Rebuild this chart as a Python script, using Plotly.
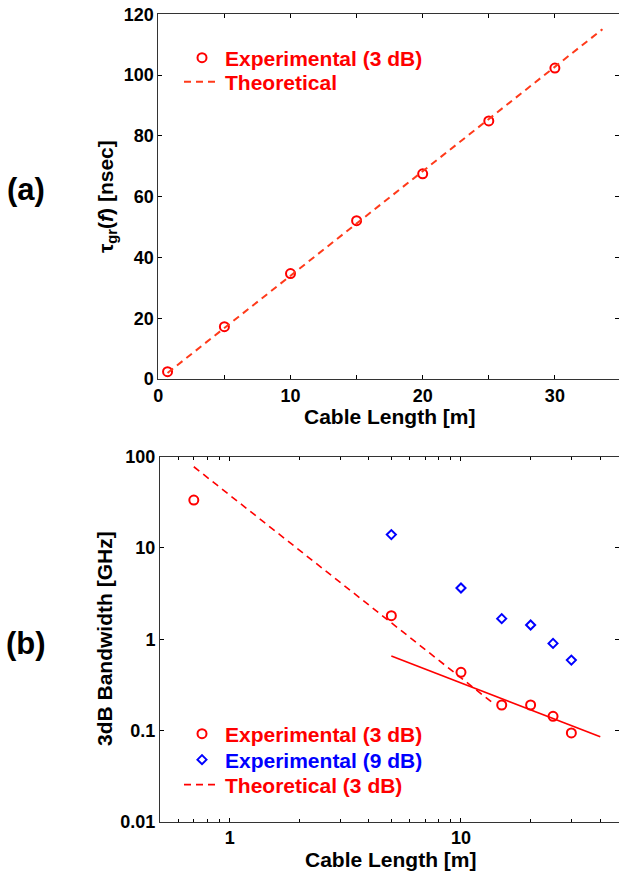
import plotly.graph_objects as go
import numpy as np

# ---------------- data ----------------
# (a) group delay vs cable length
delay_len = [0.7, 5, 10, 15, 20, 25, 30]
delay_exp = [2.4, 17.2, 34.7, 52.1, 67.5, 84.9, 102.3]
delay_theory_len = [0.7, 33.6]
delay_theory = [2.0, 115.1]

# (b) bandwidth vs cable length
bw3_len = [0.7, 5, 10, 15, 20, 25, 30]
bw3_exp = [33.5, 1.81, 0.434, 0.19, 0.19, 0.143, 0.094]
bw9_len = [5, 10, 15, 20, 25, 30]
bw9_exp = [14.0, 3.64, 1.68, 1.43, 0.90, 0.59]
bw_theory_len = [0.7, 13.8]
bw_theory = [77.6, 0.198]
bw_fit_len = [5, 40]
bw_fit = [0.655, 0.0855]

yticks_a = [0, 20, 40, 60, 80, 100, 120]
xticks_a = [0, 10, 20, 30]
yticks_b = [0.01, 0.1, 1, 10, 100]
yticklabels_b = ["0.01", "0.1", "1", "10", "100"]
xticks_b = [1, 10]
xticklabels_b = ["1", "10"]

FONT = "Liberation Sans, Arial, sans-serif"
W, H = 619, 874
RED = "#ff0000"
BLUE = "#0000ff"
AX = "#333333"

fig = go.Figure()

# ---- (a) ----
fig.add_trace(go.Scatter(
    x=delay_len, y=delay_exp, mode="markers", name="Experimental (3 dB)",
    marker=dict(symbol="circle-open", size=9, color=RED, line=dict(width=2, color=RED)),
    xaxis="x", yaxis="y", legend="legend"))
fig.add_trace(go.Scatter(
    x=delay_theory_len, y=delay_theory, mode="lines", name="Theoretical",
    line=dict(color="#ff3a1a", width=2, dash="7px,5px"),
    xaxis="x", yaxis="y", legend="legend2"))

# ---- (b) ----
fig.add_trace(go.Scatter(
    x=bw3_len, y=bw3_exp, mode="markers", name="Experimental (3 dB)",
    marker=dict(symbol="circle-open", size=9, color=RED, line=dict(width=2, color=RED)),
    xaxis="x2", yaxis="y2", legend="legend3"))
fig.add_trace(go.Scatter(
    x=bw9_len, y=bw9_exp, mode="markers", name="Experimental (9 dB)",
    marker=dict(symbol="diamond-open", size=7, color=BLUE, line=dict(width=2, color=BLUE)),
    xaxis="x2", yaxis="y2", legend="legend4"))
fig.add_trace(go.Scatter(
    x=bw_theory_len, y=bw_theory, mode="lines", name="Theoretical (3 dB)",
    line=dict(color=RED, width=1.6, dash="7px,5px"),
    xaxis="x2", yaxis="y2", legend="legend5"))
fig.add_trace(go.Scatter(
    x=bw_fit_len, y=bw_fit, mode="lines", name="fit", showlegend=False,
    line=dict(color=RED, width=1.6),
    xaxis="x2", yaxis="y2"))

tickfont = dict(family=FONT, size=18, color="black", weight="bold")
common = dict(showgrid=False, zeroline=False, ticks="inside", ticklen=4,
              tickcolor="black", tickwidth=1, showline=True, linecolor=AX,
              linewidth=1, tickfont=tickfont)

top_dom = [1 - 379 / H, 1 - 14.3 / H]
bot_dom = [1 - 821.7 / H, 1 - 456.7 / H]


def leg(ycenter, color):
    return dict(x=179 / W, xanchor="left", y=1 - ycenter / H, yanchor="middle",
                bgcolor="rgba(0,0,0,0)", borderwidth=0, itemwidth=36,
                font=dict(family=FONT, size=21, color=color, weight="bold"))


fig.update_layout(
    width=W, height=H,
    margin=dict(l=0, r=0, t=0, b=0, autoexpand=False),
    paper_bgcolor="white", plot_bgcolor="white",
    font=dict(family=FONT, color="black"),
    xaxis=dict(domain=[158.3 / W, 1], range=[0, 34.85], anchor="y",
               tickvals=xticks_a, mirror="ticks",
               minor=dict(dtick=5, ticks="inside", ticklen=4, tickcolor="black", showgrid=False),
               **common),
    yaxis=dict(domain=top_dom, range=[0, 120], anchor="x",
               tickvals=yticks_a, mirror="ticks", **common),
    xaxis2=dict(domain=[160 / W, 1], type="log",
                range=[np.log10(0.5), np.log10(48.2)], anchor="y2",
                tickvals=xticks_b, ticktext=xticklabels_b, mirror="ticks",
                minor=dict(ticks="inside", ticklen=3, tickcolor="black", showgrid=False,
                           tickvals=[0.6, 0.7, 0.8, 0.9, 2, 3, 4, 5, 6, 7, 8, 9, 20, 30, 40]),
                **common),
    yaxis2=dict(domain=bot_dom, type="log", range=[-2, 2], anchor="x2",
                tickvals=yticks_b, ticktext=yticklabels_b, mirror="ticks",
                **common),
    legend=leg(58, RED),
    legend2=leg(82, RED),
    legend3=leg(734, RED),
    legend4=leg(760, BLUE),
    legend5=leg(785, RED),
    showlegend=True,
)

titlefont = dict(family=FONT, size=21, color="black", weight="bold")
ann = [
    dict(text="Cable Length [m]", x=390 / W, y=1 - 416 / H),
    dict(text="Cable Length [m]", x=391 / W, y=1 - 859 / H),
    dict(text="τ<sub>gr</sub>(<i>f</i>) [nsec]", x=107 / W, y=1 - 197 / H, textangle=-90),
    dict(text="3dB Bandwidth [GHz]", x=104 / W, y=1 - 639 / H, textangle=-90),
]
for a in ann:
    fig.add_annotation(xref="paper", yref="paper", showarrow=False,
                       xanchor="center", yanchor="middle", font=titlefont, **a)
for t, yy in [("(a)", 190), ("(b)", 643)]:
    fig.add_annotation(text=t, xref="paper", yref="paper", x=26 / W, y=1 - yy / H,
                       showarrow=False, xanchor="center", yanchor="middle",
                       font=dict(family=FONT, size=31, color="black", weight="bold"))

fig.write_html("out.html")
